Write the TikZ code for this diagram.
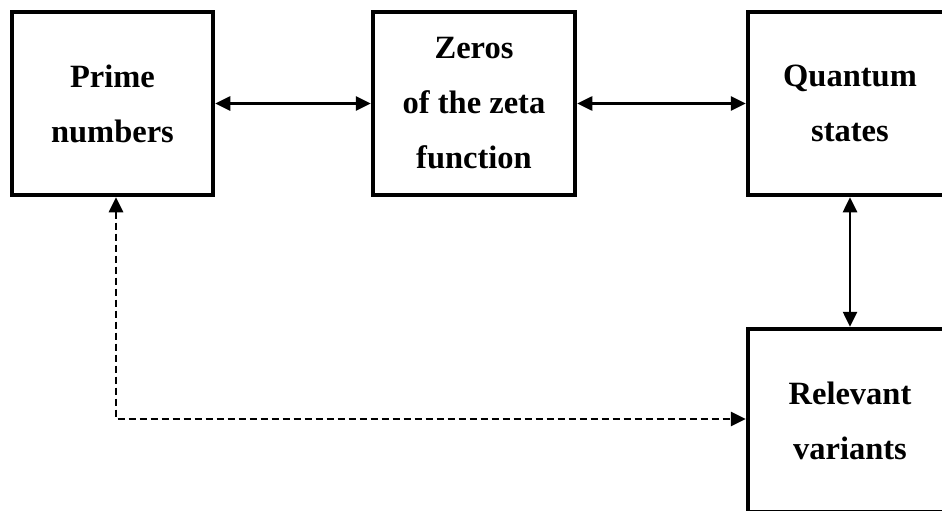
\documentclass[tikz,border=0pt]{standalone}
\usepackage{fontspec}
\setmainfont{Liberation Serif}
\usetikzlibrary{arrows.meta,calc}
\begin{document}
\begin{tikzpicture}[x=1pt,y=-1pt,
  box/.style={draw,line width=4.5pt,rectangle,minimum width=201pt,minimum height=183pt,
    align=center,font=\bfseries\fontsize{32.5}{55}\selectfont,inner sep=0pt},
  conn/.style={line width=2.6pt,{Triangle[length=15pt,width=14pt]}-{Triangle[length=15pt,width=14pt]}},
  dconn/.style={line width=2.6pt,dash pattern=on 7pt off 4pt,{Triangle[length=15pt,width=14pt]}-{Triangle[length=15pt,width=14pt]}}]
\useasboundingbox (0,0) rectangle (942,511);
\clip (0,0) rectangle (942,511);
\fill[white] (0,0) rectangle (942,511);
\node[box] (prime) at (112.5,103.5) {Prime\\numbers};
\node[box,minimum width=202pt] (zeros) at (474,103.5) {Zeros\\of the zeta\\function};
\node[box,minimum width=204pt] (quant) at (850,103.5) {Quantum\\states};
\node[box,minimum width=204pt] (relev) at (850,420.5) {Relevant\\variants};
\draw[conn] (prime.east) -- (zeros.west);
\draw[conn] (zeros.east) -- (quant.west);
\draw[conn] (quant.south) -- (relev.north);
\coordinate (pb) at ($(prime.south)+(3.5,0)$);
\coordinate (corner) at (116,419);
\draw[dconn] (pb) -- (corner) -- (relev.west |- corner);
\end{tikzpicture}
\end{document}
